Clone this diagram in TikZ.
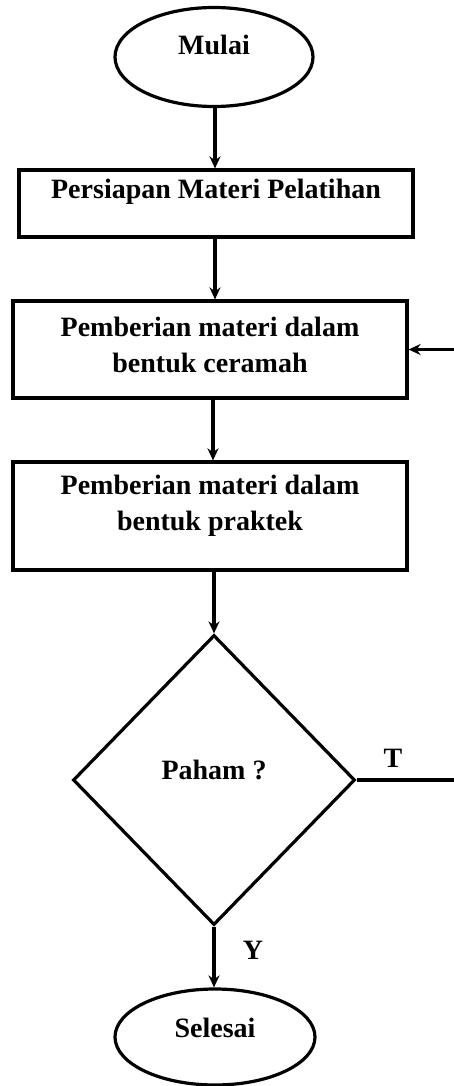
\documentclass[tikz,border=0pt]{standalone}
\usepackage{fontspec}
\setmainfont{Liberation Serif}
\usetikzlibrary{shapes.geometric,arrows.meta}
\begin{document}
\begin{tikzpicture}[x=1pt,y=-1pt,
  lw/.style={line width=3.2pt},
  term/.style={ellipse,draw,lw,inner sep=0pt},
  stepbox/.style={rectangle,draw,lw,inner sep=0pt,minimum width=394pt},
  decis/.style={diamond,draw,lw,inner sep=0pt,minimum width=282pt,minimum height=290pt},
  txt/.style={font=\fontsize{28}{36}\selectfont\bfseries,align=center,inner sep=0pt},
  conn/.style={lw,-{Stealth[length=12pt,width=11pt]}},
  line/.style={lw}]
\useasboundingbox (0,0) rectangle (454,1086);
\clip (0,0) rectangle (454,1086);
\node[term,minimum width=198pt,minimum height=99pt] (mulai) at (214,57) {};
\node[txt] (tmulai) at (214,45) {Mulai};
\node[stepbox,minimum height=67pt] (b1) at (216,203.5) {};
\node[txt] (tb1) at (216,192) {Persiapan Materi Pelatihan};
\node[stepbox,minimum height=97pt] (b2) at (210,349.5) {};
\node[txt] (tb2) at (210,345) {Pemberian materi dalam\\bentuk ceramah};
\node[stepbox,minimum height=108pt] (b3) at (210,516) {};
\node[txt] (tb3) at (210,506) {Pemberian materi dalam\\bentuk praktek};
\node[decis] (d) at (214,780) {};
\node[txt] (td) at (214,770) {Paham ?};
\node[term,minimum width=200pt,minimum height=96pt] (selesai) at (215,1037) {};
\node[txt] (tsel) at (215,1028) {Selesai};
\node[txt] (lt) at (393,758) {T};
\node[txt] (ly) at (253,950) {Y};
\coordinate (loop) at (475,780);
\draw[conn] (mulai.south -| 215,0) -- (215,0 |- b1.north);
\draw[conn] (b1.south -| 215,0) -- (215,0 |- b2.north);
\draw[conn] (b2.south -| 213,0) -- (213,0 |- b3.north);
\draw[conn] (b3.south -| d.north) -- (d.north);
\draw[conn] (d.south) -- (d.south |- selesai.north);
\draw[conn] (d.east) -- (loop) |- (b2.east);
\end{tikzpicture}
\end{document}
